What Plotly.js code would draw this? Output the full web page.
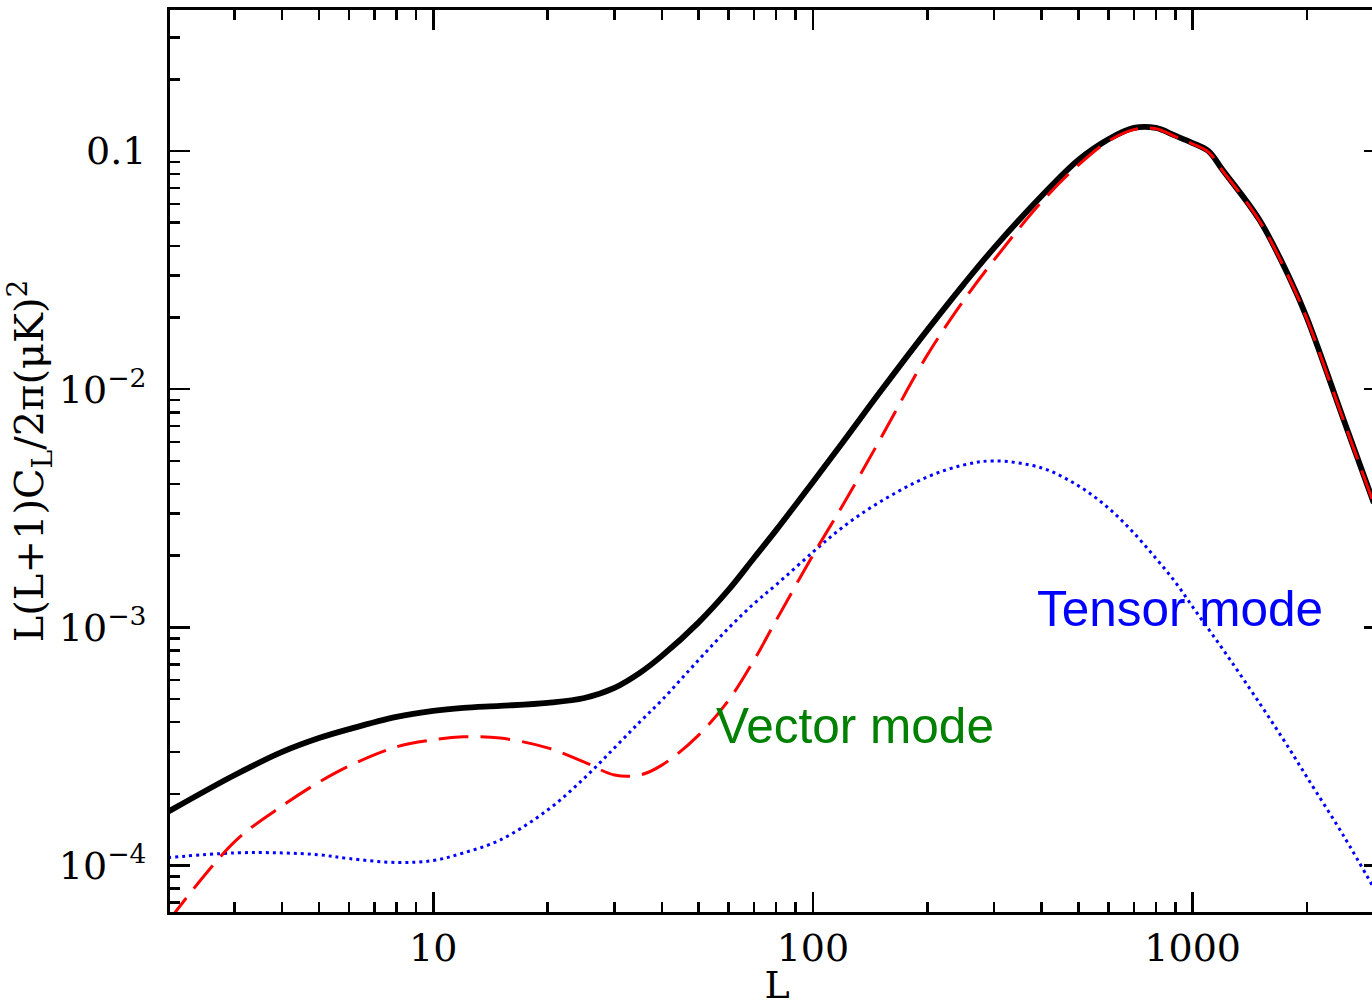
<!DOCTYPE html>
<html>
<head>
<meta charset="utf-8">
<script src="https://cdn.plot.ly/plotly-3.0.1.min.js"></script>
<style>
html,body{margin:0;padding:0;overflow:hidden;background:#fff;}
#chart{width:1386px;height:1007px;}
</style>
</head>
<body>
<div id="chart"></div>
<script>
// Multipole L values
const L = [2,3,4,5,6,8,10,12,15,20,25,30,35,40,50,60,70,80,100,120,150,200,250,300,400,500,600,700,800,900,1000,1100,1200,1500,1800,2000,2500,3000];
// Total spectrum (black solid)
const total = [1.68e-4,2.40e-4,3.00e-4,3.43e-4,3.74e-4,4.21e-4,4.46e-4,4.59e-4,4.68e-4,4.82e-4,5.05e-4,5.57e-4,6.44e-4,7.59e-4,1.05e-3,1.44e-3,1.96e-3,2.56e-3,4.08e-3,6.0e-3,9.7e-3,1.77e-2,2.77e-2,3.92e-2,6.47e-2,9.17e-2,0.112,0.125,0.125,0.116,0.108,0.100,0.0832,0.0513,0.0293,0.0199,7.43e-3,3.33e-3];
// Vector mode (red dashed)
const vector = [5.8e-5,1.26e-4,1.78e-4,2.24e-4,2.62e-4,3.15e-4,3.37e-4,3.47e-4,3.43e-4,3.12e-4,2.72e-4,2.40e-4,2.40e-4,2.64e-4,3.53e-4,4.95e-4,7.30e-4,1.07e-3,2.01e-3,3.27e-3,6.12e-3,1.39e-2,2.37e-2,3.49e-2,6.11e-2,8.73e-2,0.110,0.123,0.124,0.115,0.107,0.099,0.0825,0.0508,0.0290,0.0197,7.35e-3,3.30e-3];
// Tensor mode (blue dotted)
const tensor = [1.08e-4,1.13e-4,1.13e-4,1.11e-4,1.07e-4,1.03e-4,1.05e-4,1.13e-4,1.28e-4,1.71e-4,2.33e-4,3.12e-4,4.01e-4,4.95e-4,7.30e-4,9.94e-4,1.26e-3,1.51e-3,2.07e-3,2.64e-3,3.36e-3,4.28e-3,4.81e-3,5.00e-3,4.67e-3,3.93e-3,3.17e-3,2.49e-3,1.95e-3,1.55e-3,1.22e-3,9.85e-4,8.11e-4,4.81e-4,3.08e-4,2.35e-4,1.33e-4,8.05e-5];

const xTickVals = [10,100,1000];
const xTickText = ["10","100","1000"];
const yTickVals = [1e-4,1e-3,1e-2,0.1];
const yTickText = ["10<sup>−4</sup>","10<sup>−3</sup>","10<sup>−2</sup>","0.1"];

function minorVals(lo, hi){
  const out=[];
  for(let e=lo;e<=hi;e++){for(let m=2;m<=9;m++){out.push(m*Math.pow(10,e));}}
  return out;
}

const tickFont = {family:"DejaVu Serif", size:38, color:"#000"};

const traces = [
  {x:L, y:tensor, mode:"lines", line:{color:"#0000ff", width:3, dash:"3px,4px", shape:"spline", smoothing:1}, hoverinfo:"skip"},
  {x:L, y:total, mode:"lines", line:{color:"#000000", width:5.8, shape:"spline", smoothing:1}, hoverinfo:"skip"},
  {x:L, y:vector, mode:"lines", line:{color:"#ff0000", width:3, dash:"30px,12px", shape:"spline", smoothing:1}, hoverinfo:"skip"}
];

const axisCommon = {
  type:"log", showgrid:false, zeroline:false, showline:true, linecolor:"#000", linewidth:3,
  mirror:"ticks", ticks:"inside", ticklen:20, tickwidth:2.5, tickcolor:"#000",
  tickfont:tickFont, tickmode:"array"
};

const layout = {
  width:1386, height:1007,
  margin:{l:170, r:2, t:10, b:95},
  paper_bgcolor:"#fff", plot_bgcolor:"#fff",
  showlegend:false,
  xaxis:Object.assign({}, axisCommon, {
    range:[0.3066, 3.504],
    tickvals:xTickVals, ticktext:xTickText,
    ticklabelstandoff:0,
    minor:{tickmode:"array", tickvals:minorVals(0,3), ticks:"inside", ticklen:10, tickwidth:2.5, tickcolor:"#000", showgrid:false},
    title:{text:"L", font:{family:"DejaVu Serif", size:38, color:"#000"}, standoff:18}
  }),
  yaxis:Object.assign({}, axisCommon, {
    range:[-4.195, -0.408],
    tickvals:yTickVals, ticktext:yTickText,
    ticklabelstandoff:13,
    minor:{tickmode:"array", tickvals:minorVals(-5,-1), ticks:"inside", ticklen:10, tickwidth:2.5, tickcolor:"#000", showgrid:false},
    title:{text:"L(L+1)C<sub>L</sub>/2π(μK)<sup>2</sup>", font:{family:"DejaVu Serif", size:40, color:"#000"}, standoff:3}
  }),
  annotations:[
    {xref:"x", yref:"y", x:Math.log10(925), y:-2.92, text:"Tensor mode", showarrow:false,
     font:{family:"Liberation Sans", size:49.5, color:"#0000ff"}, xanchor:"center", yanchor:"middle"},
    {xref:"x", yref:"y", x:Math.log10(129), y:-3.41, text:"Vector mode", showarrow:false,
     font:{family:"Liberation Sans", size:49.5, color:"#008000"}, xanchor:"center", yanchor:"middle"}
  ]
};

Plotly.newPlot("chart", traces, layout, {staticPlot:true, displayModeBar:false});
</script>
</body>
</html>
